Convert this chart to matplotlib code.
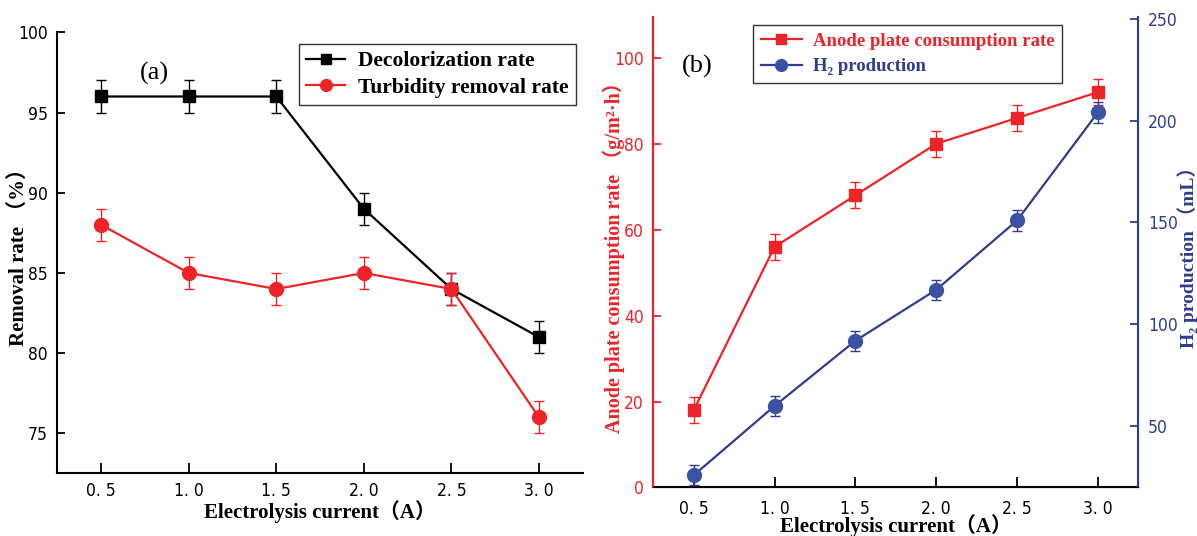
import matplotlib.pyplot as plt

# data
current = [0.5, 1.0, 1.5, 2.0, 2.5, 3.0]
tick_labels = ['0. 5', '1. 0', '1. 5', '2. 0', '2. 5', '3. 0']

decolor = [96, 96, 96, 89, 84, 81]
decolor_err = [1, 1, 1, 1, 1, 1]
turbidity = [88, 85, 84, 85, 84, 76]
turbidity_err = [1, 1, 1, 1, 1, 1]

anode = [18, 56, 68, 80, 86, 92]
anode_err = [3, 3, 3, 3, 3, 3]
h2 = [26, 60, 92, 117, 151, 204]
h2_err = [5, 5, 5, 5, 5, 5]

RED = '#ec2428'
BLUE = '#2f3c8f'
MBLUE = '#3b51a3'
SERIF = ['Liberation Serif', 'Noto Sans CJK SC']


def narrow(labels):
    for lab in labels:
        lab.set_family('DejaVu Sans')
        lab.set_stretch('condensed')


def series(ax, y, err, color, marker, ms, mcolor=None):
    mcolor = mcolor or color
    ax.errorbar(current, y, yerr=err, fmt='none', ecolor=color, capsize=3.5, elinewidth=1)
    line, = ax.plot(current, y, color=color, lw=1.6, marker=marker, markersize=ms,
                    markerfacecolor=mcolor, markeredgecolor=mcolor)
    return line


fig = plt.figure(figsize=(11.97, 5.36), dpi=100)

# ---- panel (a)
ax1 = fig.add_axes([0.0479, 0.1181, 0.439, 0.8216])
h1 = series(ax1, decolor, decolor_err, 'black', 's', 9)
h2a = series(ax1, turbidity, turbidity_err, RED, 'o', 10)
ax1.set_xlim(0.25, 3.25)
ax1.set_ylim(72.55, 100)
ax1.set_yticks([75, 80, 85, 90, 95, 100])
ax1.set_xticks(current)
ax1.set_xticklabels(tick_labels)
for s in ['top', 'right']:
    ax1.spines[s].set_visible(False)
for s in ['left', 'bottom']:
    ax1.spines[s].set_linewidth(1.5)
ax1.tick_params(axis='x', direction='in', length=7, width=1.3, labelsize=12.5, pad=7)
ax1.tick_params(axis='y', direction='in', length=6, width=1.3, labelsize=12.5, pad=7)
narrow(ax1.get_xticklabels() + ax1.get_yticklabels())
ax1.set_ylabel('Removal rate （%）', family=SERIF, fontweight='bold', fontsize=15)
ax1.yaxis.set_label_coords(-0.054, 0.5)
ax1.set_xlabel('Electrolysis current（A）', family=SERIF, fontweight='bold', fontsize=15)
ax1.xaxis.set_label_coords(0.5, -0.062)
ax1.text(0.184, 0.906, '(a)', transform=ax1.transAxes, family=SERIF, fontsize=19,
         ha='center', va='center')
leg = ax1.legend([h1, h2a], ['Decolorization rate', 'Turbidity removal rate'],
                 loc='upper right', bbox_to_anchor=(0.987, 0.974), borderaxespad=0,
                 frameon=True, fancybox=False, edgecolor='black', handlelength=1.8,
                 handletextpad=0.6, borderpad=0.35, labelspacing=0.3, markerscale=0.85,
                 prop={'family': SERIF, 'weight': 'bold', 'size': 15.5})
leg.get_frame().set_linewidth(1.0)

# ---- panel (b)
ax2 = fig.add_axes([0.5458, 0.0905, 0.4052, 0.8778])
ax3 = ax2.twinx()
l1 = series(ax2, anode, anode_err, RED, 's', 9)
l2 = series(ax3, h2, h2_err, BLUE, 'o', 10, MBLUE)
ax2.set_xlim(0.25, 3.25)
ax2.set_ylim(0, 109.5)
ax3.set_ylim(20, 250.8)
ax2.set_yticks([0, 20, 40, 60, 80, 100])
ax3.set_yticks([50, 100, 150, 200, 250])
ax2.set_xticks(current)
ax2.set_xticklabels(tick_labels)
for a in (ax2, ax3):
    a.spines['top'].set_visible(False)
ax2.spines['left'].set_color(RED)
ax3.spines['left'].set_color(RED)
ax3.spines['right'].set_color(BLUE)
for s in ['left', 'bottom']:
    ax2.spines[s].set_linewidth(1.5)
ax3.spines['right'].set_linewidth(1.5)
ax3.spines['left'].set_linewidth(1.5)
ax2.tick_params(axis='x', direction='in', length=7, width=1.3, labelsize=12.5, pad=9)
ax2.tick_params(axis='y', direction='in', length=6, width=1.3, labelsize=12.5, colors=RED, pad=7)
ax3.tick_params(axis='y', direction='in', length=6, width=1.3, labelsize=12.5, colors=BLUE, pad=7)
narrow(ax2.get_xticklabels() + ax2.get_yticklabels() + ax3.get_yticklabels())
ax2.set_ylabel('Anode plate consumption rate （g/m²·h）', family=SERIF,
               fontweight='bold', fontsize=14.5, color=RED)
ax2.yaxis.set_label_coords(-0.058, 0.5)
ax3.set_ylabel('H₂ production （mL）', family=SERIF, fontweight='bold',
               fontsize=14, color=BLUE)
ax3.yaxis.set_label_coords(1.08, 0.5)
ax2.set_xlabel('Electrolysis current（A）', family=SERIF, fontweight='bold', fontsize=15)
ax2.xaxis.set_label_coords(0.5, -0.056)
ax2.text(0.09, 0.894, '(b)', transform=ax2.transAxes, family=SERIF, fontsize=19,
         ha='center', va='center')
leg2 = ax2.legend([l1, l2], ['Anode plate consumption rate', 'H₂ production'],
                  loc='upper left', bbox_to_anchor=(0.2056, 0.983), borderaxespad=0,
                  frameon=True, fancybox=False, edgecolor='black', handlelength=2.2,
                  handletextpad=0.6, borderpad=0.4, labelspacing=0.45, markerscale=0.85,
                  prop={'family': SERIF, 'weight': 'bold', 'size': 13.5})
leg2.get_frame().set_linewidth(1.0)
leg2.get_texts()[0].set_color(RED)
leg2.get_texts()[1].set_color(BLUE)

fig.savefig('out.png', dpi=100)
